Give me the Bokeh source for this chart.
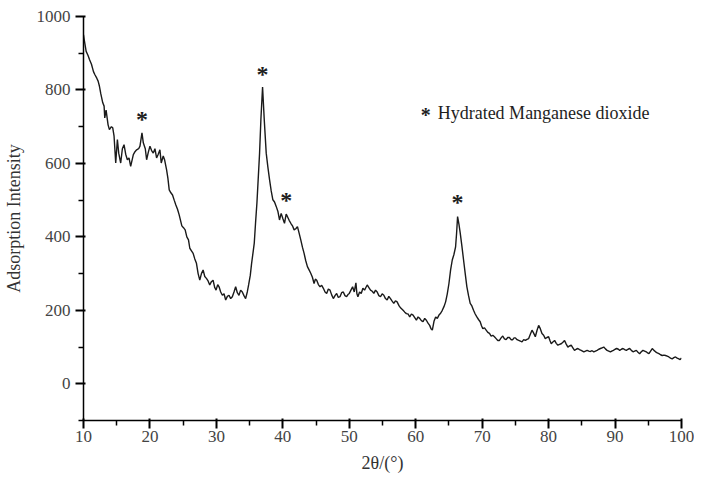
from bokeh.plotting import figure
from bokeh.models import FixedTicker, Range1d, LinearAxis
from bokeh.core.properties import value
from bokeh.embed import file_html
from bokeh.resources import INLINE

# ---- data ----
two_theta = [
    10.0, 10.1, 10.4, 10.7, 10.9, 11.2, 11.5, 11.7, 12.0, 12.2, 12.4, 12.6, 12.9, 13.1, 13.2, 13.4,
    13.7, 13.9, 14.2, 14.4, 14.6, 14.85, 15.1, 15.3, 15.6, 15.85, 16.1, 16.35, 16.6, 16.85, 17.1,
    17.5, 17.75, 18.0, 18.3, 18.5, 18.8, 19.0, 19.3, 19.5, 19.75, 20.0, 20.25, 20.5, 20.75, 21.0,
    21.25, 21.5, 21.7, 22.0, 22.2, 22.5, 22.7, 22.9, 23.15, 23.4, 23.65, 23.9, 24.15, 24.4, 24.6,
    24.8, 25.05, 25.3, 25.55, 25.8, 26.0, 26.25, 26.5, 26.75, 27.0, 27.25, 27.5, 27.75, 28.0, 28.25,
    28.5, 28.75, 29.0, 29.25, 29.5, 29.75, 29.95, 30.2, 30.4, 30.65, 30.9, 31.15, 31.4, 31.65, 31.9,
    32.15, 32.4, 32.65, 32.9, 33.15, 33.4, 33.65, 33.9, 34.15, 34.4, 34.65, 34.85, 35.1, 35.3, 35.5,
    35.7, 35.9, 36.1, 36.3, 36.5, 36.7, 36.95, 37.2, 37.5, 37.75, 38.0, 38.25, 38.5, 38.75, 39.0,
    39.25, 39.5, 39.75, 40.0, 40.25, 40.5, 40.7, 40.95, 41.2, 41.45, 41.7, 41.95, 42.2, 42.45, 42.7,
    42.95, 43.2, 43.45, 43.7, 43.95, 44.2, 44.45, 44.7, 44.9, 45.1, 45.35, 45.6, 45.85, 46.1, 46.35,
    46.6, 46.85, 47.1, 47.35, 47.6, 47.85, 48.1, 48.35, 48.6, 48.85, 49.1, 49.35, 49.6, 49.8, 50.0,
    50.25, 50.5, 50.75, 51.0, 51.15, 51.3, 51.55, 51.8, 52.05, 52.3, 52.5, 52.7, 52.95, 53.2, 53.45,
    53.7, 53.95, 54.2, 54.45, 54.7, 54.95, 55.2, 55.45, 55.7, 55.95, 56.2, 56.45, 56.7, 56.95, 57.2,
    57.5, 57.75, 58.1, 58.35, 58.6, 58.85, 59.1, 59.35, 59.6, 59.85, 60.1, 60.35, 60.6, 60.85, 61.1,
    61.35, 61.6, 61.85, 62.1, 62.3, 62.5, 62.75, 63.0, 63.25, 63.5, 63.75, 64.0, 64.25, 64.5, 64.75,
    65.0, 65.25, 65.5, 65.75, 66.0, 66.15, 66.3, 66.5, 66.7, 66.95, 67.2, 67.45, 67.7, 67.95, 68.2,
    68.45, 68.7, 68.95, 69.2, 69.45, 69.7, 69.9, 70.1, 70.35, 70.6, 70.85, 71.1, 71.35, 71.6, 71.85,
    72.1, 72.35, 72.6, 72.85, 73.1, 73.35, 73.6, 73.85, 74.1, 74.35, 74.6, 74.8, 75.0, 75.25, 75.5,
    75.75, 76.0, 76.25, 76.5, 76.75, 77.0, 77.25, 77.5, 77.75, 78.0, 78.25, 78.5, 78.75, 79.0, 79.25,
    79.5, 79.75, 80.0, 80.2, 80.4, 80.65, 80.9, 81.15, 81.4, 81.65, 81.9, 82.15, 82.4, 82.65, 82.9,
    83.15, 83.4, 83.65, 83.9, 84.15, 84.4, 84.65, 84.9, 85.1, 85.3, 85.55, 85.8, 86.05, 86.3, 86.55,
    86.8, 87.05, 87.3, 87.55, 87.8, 88.05, 88.3, 88.55, 88.8, 89.05, 89.3, 89.5, 89.75, 90.0, 90.25,
    90.5, 90.7, 90.95, 91.2, 91.45, 91.7, 91.95, 92.2, 92.45, 92.7, 92.95, 93.2, 93.45, 93.7, 93.95,
    94.2, 94.45, 94.7, 94.9, 95.1, 95.35, 95.6, 95.85, 96.1, 96.35, 96.6, 96.85, 97.1, 97.35, 97.6,
    97.85, 98.1, 98.35, 98.6, 98.85, 99.1, 99.35, 99.6, 99.8, 100.0,
]
intensity = [
    950, 938, 905, 893, 883, 870, 850, 842, 832, 824, 810, 790, 765, 756, 724, 745,
    705, 692, 700, 697, 674, 601, 665, 628, 601, 640, 651, 625, 610, 615, 592,
    624, 632, 637, 640, 647, 683, 656, 640, 610, 630, 647, 635, 628, 640, 615,
    625, 637, 601, 620, 610, 583, 560, 528, 520, 514, 500, 487, 475, 460, 445,
    430, 425, 419, 400, 392, 369, 362, 355, 340, 328, 300, 282, 300, 310, 292,
    287, 280, 269, 278, 282, 262, 255, 270, 264, 250, 241, 245, 228, 238, 241,
    232, 237, 250, 264, 248, 241, 255, 250, 240, 232, 250, 269, 295, 328, 355,
    383, 440, 492, 560, 628, 720, 808, 720, 628, 590, 556, 525, 501, 495, 483,
    470, 446, 464, 450, 437, 462, 455, 445, 437, 430, 419, 422, 428, 410, 392,
    372, 355, 335, 319, 310, 301, 290, 273, 285, 282, 270, 264, 268, 260, 250,
    246, 258, 255, 242, 232, 240, 246, 235, 237, 248, 250, 240, 237, 243, 246,
    255, 264, 250, 275, 245, 237, 250, 246, 260, 255, 262, 269, 262, 255, 252,
    246, 255, 250, 240, 237, 245, 241, 232, 228, 238, 232, 225, 219, 226, 223,
    212, 206, 200, 195, 191, 190, 182, 190, 187, 180, 173, 182, 178, 172, 169,
    178, 173, 165, 159, 150, 146, 170, 182, 178, 187, 192, 200, 210, 223, 245,
    273, 310, 337, 352, 373, 410, 455, 435, 410, 375, 337, 300, 264, 240, 219,
    212, 200, 190, 182, 175, 169, 158, 150, 152, 146, 140, 137, 130, 132, 128,
    123, 118, 118, 125, 130, 122, 120, 126, 126, 120, 120, 125, 125, 120, 118,
    116, 114, 120, 118, 121, 123, 135, 146, 138, 128, 145, 159, 150, 137, 132,
    123, 126, 128, 118, 109, 114, 118, 110, 105, 107, 109, 113, 118, 108, 100,
    103, 105, 98, 91, 94, 96, 93, 91, 89, 87, 89, 91, 89, 88, 90,
    87, 89, 91, 94, 96, 98, 100, 95, 91, 89, 87, 89, 91, 94, 96,
    94, 91, 94, 96, 93, 91, 94, 96, 91, 87, 89, 91, 86, 82, 87,
    91, 89, 87, 84, 82, 89, 96, 91, 87, 84, 82, 79, 77, 78, 77,
    75, 73, 70, 68, 71, 73, 70, 68, 66, 70,
]

# peak markers (asterisks) for hydrated MnO2
star_x = [18.8, 36.95, 40.5, 66.3]
star_y = [724, 845, 503, 499]

# legend key (star + label) position, in data units
legend_star_x = [61.5]
legend_text_x = [63.3]
legend_y = [736]
legend_label = "Hydrated Manganese dioxide"

x_major = [10, 20, 30, 40, 50, 60, 70, 80, 90, 100]
x_minor = [15, 25, 35, 45, 55, 65, 75, 85, 95]
y_major = [0, 200, 400, 600, 800, 1000]
y_minor = [-100, 100, 300, 500, 700, 900]

x_title = "2θ/(°)"
y_title = "Adsorption Intensity"

SERIF = "Liberation Serif"
INK = "#1e1e1e"

p = figure(width=694, height=481, output_backend="svg", toolbar_location=None,
           x_range=Range1d(10, 100), y_range=Range1d(-100, 1000),
           min_border_left=78, min_border_right=13, min_border_top=16, min_border_bottom=61)
p.outline_line_color = None
p.xgrid.grid_line_color = None
p.ygrid.grid_line_color = None

p.line(two_theta, intensity, line_color="#1a1a1a", line_width=1.4)

# asterisks drawn as serif "*" characters (six-armed, as in the reference)
p.text(x=star_x, y=star_y, text=["*"] * len(star_x),
       text_font=value(SERIF), text_font_size="24px", text_font_style="bold",
       text_color=INK, text_align="center", text_baseline="middle", y_offset=1)
p.text(x=legend_star_x, y=legend_y, text=["*"],
       text_font=value(SERIF), text_font_size="20px", text_font_style="bold",
       text_color=INK, text_align="center", text_baseline="middle", y_offset=2)
p.text(x=legend_text_x, y=legend_y, text=[legend_label],
       text_font=value(SERIF), text_font_size="18px",
       text_color=INK, text_align="left", text_baseline="middle")

# inner axes: axis line + ticks only (labels blanked)
blank_x = {t: "" for t in x_major}
blank_y = {t: "" for t in y_major}
for ax, maj, mnr, blank in ((p.xaxis[0], x_major, x_minor, blank_x),
                            (p.yaxis[0], y_major, y_minor, blank_y)):
    ax.ticker = FixedTicker(ticks=maj, minor_ticks=mnr)
    ax.major_label_overrides = blank
    ax.major_label_text_font_size = "1px"
    ax.major_label_standoff = 0
    ax.major_tick_out = 8
    ax.major_tick_line_width = 2
    ax.minor_tick_out = 5
    ax.minor_tick_line_width = 1.5
    ax.axis_line_width = 1.5

# outer axes: tick labels and titles only
x_lab = LinearAxis(ticker=FixedTicker(ticks=x_major, minor_ticks=x_minor))
y_lab = LinearAxis(ticker=FixedTicker(ticks=y_major, minor_ticks=y_minor))
for ax in (x_lab, y_lab):
    ax.axis_line_color = None
    ax.major_tick_line_color = None
    ax.minor_tick_line_color = None
    ax.major_tick_out = 0
    ax.major_tick_in = 0
    ax.minor_tick_out = 0
    ax.minor_tick_in = 0
    ax.major_label_text_font = SERIF
    ax.major_label_text_font_size = "17px"
    ax.major_label_text_color = "#444444"
    ax.axis_label_text_font = SERIF
    ax.axis_label_text_font_size = "18px"
    ax.axis_label_text_font_style = "normal"
    ax.axis_label_text_color = "#333333"
x_lab.major_label_standoff = 2
y_lab.major_label_standoff = 5
x_lab.axis_label = x_title
y_lab.axis_label = y_title
x_lab.axis_label_standoff = 8
y_lab.axis_label_standoff = 10
p.add_layout(x_lab, "below")
p.add_layout(y_lab, "left")

open("out.html", "w").write(file_html(p, INLINE))
